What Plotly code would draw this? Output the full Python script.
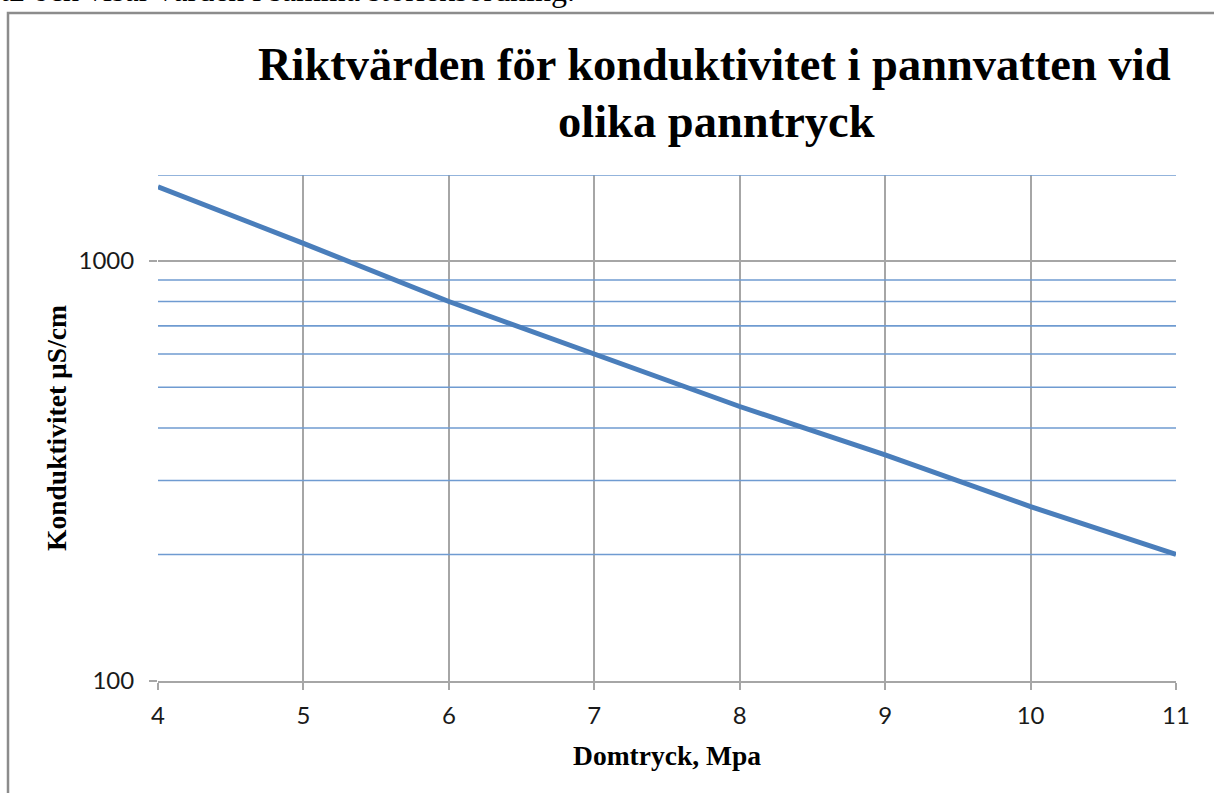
import plotly.graph_objects as go

# Data
pressure = [4, 5, 6, 7, 8, 9, 10, 11]                 # Domtryck, MPa
conductivity = [1500, 1100, 800, 600, 450, 345, 260, 200]  # µS/cm
ref_levels = [200, 300, 400, 500, 600, 700, 800, 900, 1600]
x_ticks = [4, 5, 6, 7, 8, 9, 10, 11]
y_ticks = [100, 1000]

W, H = 1214, 793
L, R, T, B = 158, 38, 175, 112
pw, ph = W - L - R, H - T - B

def px_x(px):
    return (px - L) / pw

def px_y(py):
    return (H - B - py) / ph

fig = go.Figure()

# horizontal reference lines
for lvl in ref_levels:
    fig.add_trace(go.Scatter(
        x=[x_ticks[0], x_ticks[-1]], y=[lvl, lvl], mode="lines",
        line=dict(color="#6f9bd1", width=1.6), showlegend=False, hoverinfo="skip",
        cliponaxis=False))

fig.add_trace(go.Scatter(
    x=pressure, y=conductivity, mode="lines",
    line=dict(color="#4a7ebb", width=5), showlegend=False, cliponaxis=False))

serif = "Liberation Serif, Times New Roman, serif"
sans = "Lato, Open Sans, sans-serif"

fig.update_layout(
    width=W, height=H,
    margin=dict(l=L, r=R, t=T, b=B),
    paper_bgcolor="white", plot_bgcolor="white",
    showlegend=False,
    xaxis=dict(
        range=[4, 11], tickvals=x_ticks, ticktext=[str(v) for v in x_ticks],
        showgrid=True, gridcolor="#a6a6a6", gridwidth=1.5,
        showline=True, linecolor="#a6a6a6", linewidth=1.5,
        ticks="outside", ticklen=7, tickcolor="#a6a6a6", tickwidth=1.5,
        ticklabelstandoff=5,
        tickfont=dict(family=sans, size=24, color="#1a1a1a"),
        zeroline=False,
        title=dict(text="<b>Domtryck, Mpa</b>", font=dict(family=serif, size=27.5, color="black"), standoff=18),
    ),
    yaxis=dict(
        type="log", range=[2, 3.2041],
        tickvals=y_ticks, ticktext=[str(v) for v in y_ticks],
        showgrid=True, gridcolor="#a6a6a6", gridwidth=1.5,
        showline=False,
        ticks="outside", ticklen=8, tickcolor="#a6a6a6", tickwidth=1.5,
        ticklabelstandoff=10,
        tickfont=dict(family=sans, size=24, color="#1a1a1a"),
        zeroline=False,
        title=dict(text="<b>Konduktivitet µS/cm</b>", font=dict(family=serif, size=27.5, color="black"), standoff=3),
    ),
    shapes=[
        dict(type="rect", xref="paper", yref="paper",
             x0=px_x(8), x1=px_x(1300), y0=px_y(900), y1=px_y(13),
             line=dict(color="#8c8c8c", width=2.5), fillcolor="rgba(0,0,0,0)", layer="below"),
    ],
    annotations=[
        dict(text="<b>Riktvärden för konduktivitet i pannvatten vid</b>",
             xref="paper", yref="paper", x=px_x(714), y=px_y(65),
             xanchor="center", yanchor="middle", showarrow=False,
             font=dict(family=serif, size=46.5, color="black")),
        dict(text="<b>olika panntryck</b>",
             xref="paper", yref="paper", x=px_x(716), y=px_y(122),
             xanchor="center", yanchor="middle", showarrow=False,
             font=dict(family=serif, size=46.5, color="black")),
        dict(text="t2 och visar värden i samma storleksordning.",
             xref="paper", yref="paper", x=px_x(-2), y=px_y(-10),
             xanchor="left", yanchor="middle", showarrow=False,
             font=dict(family=serif, size=32, color="black")),
    ],
)

fig.write_html("out.html", config={"displayModeBar": False},
               post_script="document.body.style.margin='0';document.body.style.padding='0';")
